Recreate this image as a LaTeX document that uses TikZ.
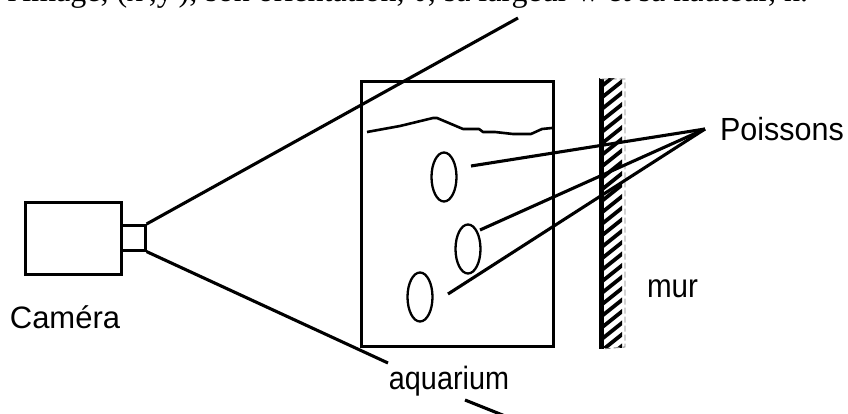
\documentclass[tikz,border=0pt]{standalone}
\usepackage{fontspec}
\setmainfont{Liberation Sans}
\newfontfamily\serifhead{Liberation Serif}
\usetikzlibrary{shapes.geometric}
\newcommand{\tallertext}[1]{\scalebox{1}[1.12]{#1}}
\tikzset{
  thick line/.style={line width=3.1pt,black},
  box/.style={draw,line width=2.6pt,fill=none,inner sep=0pt},
  fish/.style={draw,ellipse,line width=2.3pt,minimum width=25pt,minimum height=49pt,inner sep=0pt},
  lbl/.style={font=\fontsize{28.8}{30}\selectfont,inner sep=0pt,anchor=base}
}
\begin{document}
\begin{tikzpicture}[x=1pt,y=-1pt]
\useasboundingbox (0,0) rectangle (848,414);
\clip (0,0) rectangle (848,414);
% heading
\node[anchor=base west,inner sep=0pt,font=\fontsize{32}{34}\selectfont\serifhead] (head) at (7.5,1.5) {l'image, (x',y'), son orientation, θ, sa largeur w et sa hauteur, h.};
% camera
\node[box,minimum width=96pt,minimum height=72pt,anchor=north west] (cam) at (24,201) {};
\node[box,minimum width=24pt,minimum height=25pt,anchor=north west] (lens) at (120,224) {};
% aquarium
\node[box,minimum width=192pt,minimum height=265pt,anchor=north west] (aq) at (360,80) {};
% labels
\node[lbl,font=\fontsize{31}{32}\selectfont] (camtxt) at (65,328) {Caméra};
\node[lbl] (aqtxt) at (449,389) {\tallertext{aquarium}};
\node[lbl,font=\fontsize{29.6}{31}\selectfont] (murtxt) at (672.5,297) {\tallertext{mur}};
\node[lbl,font=\fontsize{30.5}{32}\selectfont] (poi) at (782,141) {\scalebox{1}[1.05]{Poissons}};
% rays
\coordinate (rayA) at (518,18);
\coordinate (rayB) at (388,363);
\coordinate (rayC) at (465,400);
\coordinate (rayD) at (510,418);
\draw[thick line] (lens.north east) -- (rayA);
\draw[thick line] (lens.south east) -- (rayB);
\draw[thick line] (rayC) -- (rayD);
% water
\draw[line width=2.6pt,line join=round] (367,132) -- (400,126) -- (433,118) -- (437,118) -- (463,129) -- (479,129) -- (483,132) -- (495,132) -- (513,134) -- (531,134) -- (542,129) -- (552,128);
% wall
\begin{scope}
\clip (599,79) rectangle (622,347);
\foreach \k in {0,...,26}{
  \draw[line width=3.8pt] (590,{84+\k*11.5}) -- (630,{84+\k*11.5-32});
}
\end{scope}
\coordinate (wallNW) at (601.5,79);
\coordinate (wallSW) at (601.5,349);
\coordinate (wallNE) at (625,79);
\coordinate (wallSE) at (625,347);
\draw[line width=5.5pt] (wallNW) -- (wallSW);
\draw[gray,line width=0.9pt,dash pattern=on 6pt off 3pt] (wallNW) -- (wallNE) -- (wallSE) -- (wallSW);
% fish
\node[fish] (f1) at (444,177) {};
\node[fish] (f2) at (468,249) {};
\node[fish] (f3) at (420,297) {};
\coordinate (p) at (705,129);
\coordinate (e1) at (471,166);
\coordinate (e2) at (480,230);
\coordinate (e3) at (448,294);
\draw[thick line,line join=round] (p) -- (e1);
\draw[thick line] (p) -- (e2);
\draw[thick line] (p) -- (e3);
\end{tikzpicture}
\end{document}
